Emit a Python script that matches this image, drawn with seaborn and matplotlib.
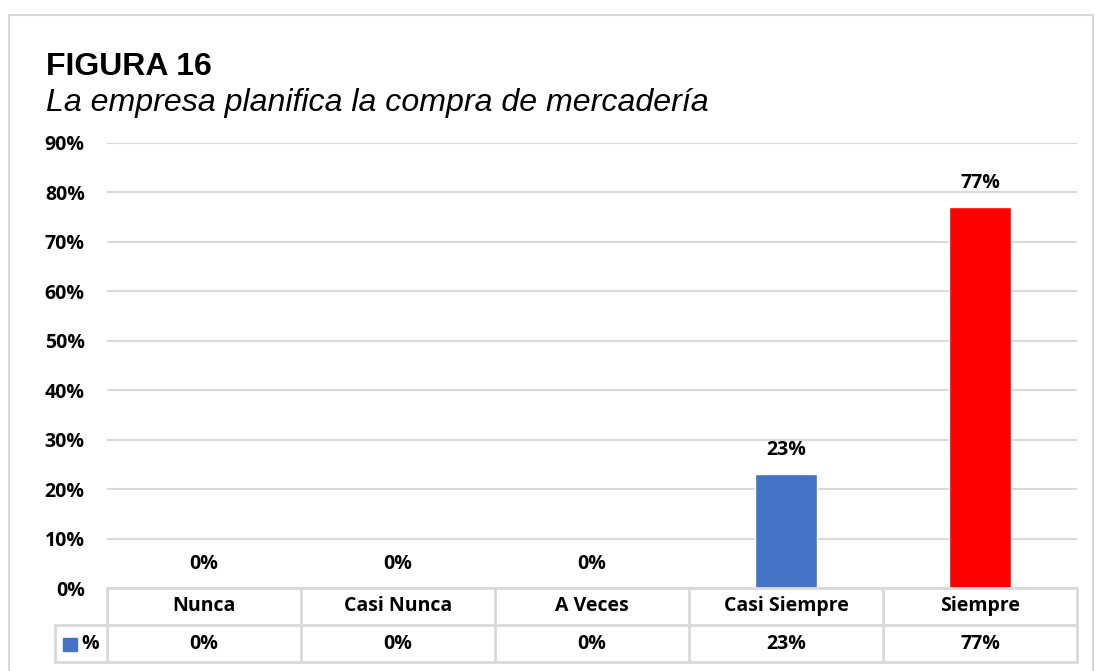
import numpy as np
import pandas as pd
import matplotlib.pyplot as plt
import matplotlib.transforms as mtransforms
from matplotlib.patches import Rectangle
from matplotlib.lines import Line2D
import seaborn as sns

# data
categories = ["Nunca", "Casi Nunca", "A Veces", "Casi Siempre", "Siempre"]
values = [0, 0, 0, 23, 77]
labels = ["0%", "0%", "0%", "23%", "77%"]
bar_colors = ["#4472C4", "#4472C4", "#4472C4", "#4472C4", "#FF0000"]
series_name = "%"

sns.set_theme(style="white")
plt.rcParams['font.family'] = ['Open Sans', 'DejaVu Sans']
plt.rcParams['text.color'] = 'black'
plt.rcParams['ytick.color'] = 'black'

W, H = 1095, 671
fig = plt.figure(figsize=(W / 100, H / 100), dpi=100)

def fx(x):
    return x / W

def fy(y):
    return 1 - y / H

ax = fig.add_axes([fx(107), fy(588), fx(1077) - fx(107), fy(143) - fy(588)])

df = pd.DataFrame({"cat": categories, "val": values})
sns.barplot(data=df, x="cat", y="val", hue="cat", palette=bar_colors,
            width=0.315, legend=False, ax=ax, saturation=1)

fs = 14
ax.set_ylim(0, 90)
ax.set_xlim(-0.5, 4.5)
ax.set_yticks(range(0, 91, 10))
ax.set_yticklabels([f"{t}%" for t in range(0, 91, 10)], fontsize=fs, fontweight="bold")
ax.tick_params(axis="y", length=0, pad=16, labelcolor="black")
ax.set_xticks([])
ax.set_xlabel("")
ax.set_ylabel("")
ax.grid(axis="y", color="#d9d9d9", linewidth=1.5)
ax.set_axisbelow(True)
for s in ax.spines.values():
    s.set_visible(False)

# data labels
for i, (v, lab) in enumerate(zip(values, labels)):
    ax.annotate(lab, (i, v), xytext=(0, 10), textcoords="offset points",
                ha="center", va="bottom", fontsize=fs, fontweight="bold")

# title
fig.text(fx(46), fy(67), "FIGURA 16", fontsize=23, fontweight="bold",
         family="Liberation Sans", va="center", ha="left")
fig.text(fx(46), fy(103), "La empresa planifica la compra de mercadería", fontsize=23.1,
         style="italic", family="Liberation Sans", va="center", ha="left")

# data table under the axes
grid_c = "#d9d9d9"
lw = 2
bounds = [107 + k * 194 for k in range(6)]
for x in bounds:
    fig.add_artist(Line2D([fx(x), fx(x)], [fy(588), fy(662)], color=grid_c, lw=lw))
fig.add_artist(Line2D([fx(55), fx(55)], [fy(625), fy(662)], color=grid_c, lw=lw))
fig.add_artist(Line2D([fx(107), fx(1077)], [fy(588), fy(588)], color=grid_c, lw=lw))
fig.add_artist(Line2D([fx(55), fx(1077)], [fy(625), fy(625)], color=grid_c, lw=lw))
fig.add_artist(Line2D([fx(55), fx(1077)], [fy(662), fy(662)], color=grid_c, lw=lw))

trans = mtransforms.blended_transform_factory(ax.transData, fig.transFigure)
for i, (c, lab) in enumerate(zip(categories, labels)):
    fig.text(i, fy(606), c, transform=trans, ha="center", va="center",
             fontsize=fs, fontweight="bold")
    fig.text(i, fy(644), lab, transform=trans, ha="center", va="center",
             fontsize=fs, fontweight="bold")

fig.add_artist(Rectangle((fx(63), fy(651)), fx(77) - fx(63), fy(638) - fy(651),
                         color=bar_colors[0], transform=fig.transFigure))
fig.text(fx(81), fy(644), series_name, ha="left", va="center", fontsize=fs, fontweight="bold")

# outer border
fig.add_artist(Rectangle((fx(9), fy(690)), fx(1093) - fx(9), fy(15) - fy(690),
                         fill=False, edgecolor=grid_c, lw=1.5, transform=fig.transFigure))

fig.savefig("out.png", dpi=100)
